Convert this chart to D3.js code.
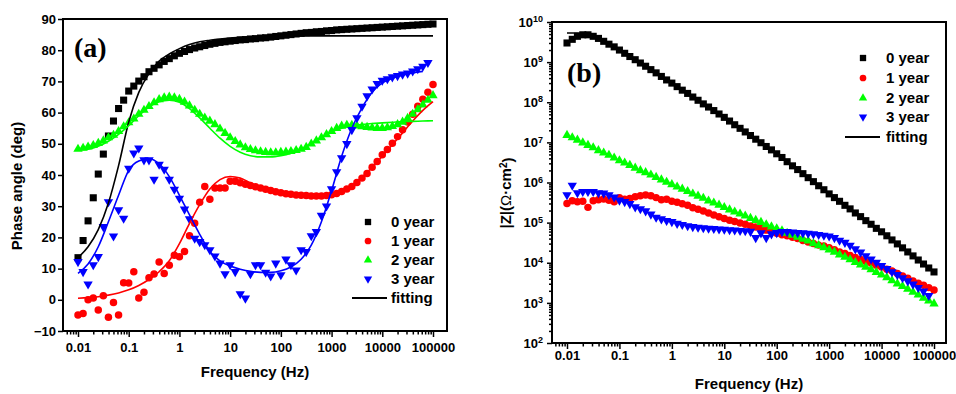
<!DOCTYPE html>
<html><head><meta charset="utf-8">
<script src="https://cdn.jsdelivr.net/npm/d3@7"></script>
<style>
body{margin:0;background:#fff}
svg{display:block}
text{font-family:"Liberation Sans",Arial,sans-serif;font-weight:bold;fill:#000}
</style>
</head><body>
<svg id="c" width="956" height="394"></svg>
<script>
// ---------------- DATA ----------------
const freq = [0.01,0.0126,0.0158,0.02,0.0251,0.0316,0.0398,0.0501,0.0631,0.0794,
  0.1,0.126,0.158,0.2,0.251,0.316,0.398,0.501,0.631,0.794,
  1,1.26,1.58,2,2.51,3.16,3.98,5.01,6.31,7.94,
  10,12.6,15.8,20,25.1,31.6,39.8,50.1,63.1,79.4,
  100,126,158,200,251,316,398,501,631,794,
  1000,1260,1580,2000,2510,3160,3980,5010,6310,7940,
  10000,12600,15800,20000,25100,31600,39800,50100,63100,79400,
  100000];
const fitFreq = [0.01,0.0158,0.0251,0.0398,0.0631,0.1,0.158,0.251,0.398,0.631,1,1.58,2.51,3.98,6.31,10,15.8,25.1,39.8,63.1,100,158,251,398,631,1000,1580,2510,3980,6310,10000,15800,25100,39800,63100,100000];

const seriesNames = ["0 year","1 year","2 year","3 year"];
const fitName = "fitting";

// Phase angle (deg)
const phase0 = [13.5,19,25.3,32.7,40.3,46.7,52.5,57.3,61.3,64,
  66.9,68.5,70.1,71.5,73.1,74.2,75.3,76.4,77.3,78.2,
  79,79.6,80.2,80.7,81.1,81.5,81.9,82.2,82.5,82.7,
  82.9,83.1,83.3,83.4,83.6,83.7,83.9,84,84.2,84.4,
  84.6,84.8,85,85.2,85.4,85.6,85.7,85.9,86,86.2,
  86.3,86.5,86.6,86.7,86.8,86.9,87,87.1,87.2,87.3,
  87.4,87.5,87.6,87.7,87.8,87.9,88,88.1,88.2,88.3,
  88.4];
const phase1 = [-4.9,-4.4,0,0.6,-3.3,1.3,-5.6,-0.9,-4.9,5.5,
  5.4,9,0.6,2.4,7.1,8.3,12.1,8.4,11.1,14.3,
  13.8,15.5,20.5,24.5,31.3,36.3,32.2,35.8,35.8,35.8,
  38,38,37.5,37,36.6,36.2,35.8,35.4,35,34.6,
  34.3,34,33.8,33.6,33.5,33.4,33.3,33.3,33.3,33.4,
  33.7,34.1,34.7,35.5,36.3,37.6,39,40.5,42.5,44.3,
  46.5,48.2,50.2,52.3,54.5,57,59.5,62,64.3,66.5,
  69];
const phase2 = [48.3,48.6,49,49.5,50.2,51,52,52.8,54,55.5,
  56.8,58,59.5,60.8,62,63.2,64.2,64.8,65,64.8,
  64.3,63.4,62.2,60.8,59.5,58.3,57.3,56.2,54.8,53.4,
  52,50.8,49.7,48.8,48.2,47.8,47.5,47.3,47.2,47.2,
  47.3,47.4,47.6,47.9,48.3,48.9,50,51,52,53,
  54,55,55.7,56,56,55.8,55.5,55.3,55.1,55,
  55,55.2,55.6,56.2,57,58.2,59.5,61,62.5,64,
  65.5];
const phase3 = [12.2,9,5,11.2,13.8,23.4,31.4,20.4,28.8,26.1,
  42.1,47,48.6,44.8,44.8,38.6,43.4,41.8,38.6,35.4,
  32.5,29,25.9,19.7,18.6,17.6,16,14,11.7,8.3,
  11.2,9,1.9,0.5,8.3,11.2,11.2,8.8,7.6,11.7,
  8,13,11.2,9.5,16,15.4,20.5,21.8,27,30,
  35.5,41,45.5,50,54.5,58.3,62,65.3,67.5,69.3,
  70.3,70.8,71.4,71.8,72.3,72.6,73.3,74,74.8,76];

const phaseFit0 = [13.5,17,22.5,31,43,57,66.5,72.5,76.5,78.8,80.5,81.8,82.7,83.2,83.6,83.9,84.1,84.3,84.4,84.5,84.55,84.6,84.6,84.6,84.6,84.6,84.6,84.6,84.6,84.6,84.6,84.6,84.6,84.6,84.6,84.6];
const phaseFit1 = [0.5,0.7,1,1.5,2.2,3.2,4.6,6.5,9,12.5,18,24.5,30.5,35.5,38.5,39.5,39,37.5,36,34.8,34,33.4,33,32.8,32.9,33.4,34.5,36.5,39.3,42.5,46,49.7,53.5,57.3,60.7,63.5];
const phaseFit2 = [48,48.3,49.2,50.8,53,55.8,59,61.8,63.5,64,63.3,61.3,58.3,55,51.8,49.2,47.3,46.2,45.8,45.8,46.2,47,48.3,50,52,53.8,55,55.8,56.2,56.5,56.7,56.9,57.1,57.2,57.3,57.4];
const phaseFit3 = [8.5,11.5,17,25,33.5,41.5,44.5,45.2,43.6,39.5,33.5,27.2,21,15.5,12.5,10.8,9.8,9.1,8.8,8.8,9.3,10.5,13,17.5,25,35,46,55,61.5,66.5,69.5,71,72,72.7,73.2,null];

// |Z| (Ohm cm^2)
const modZ0 = [3.0e9,3.7e9,4.4e9,4.8e9,4.8e9,4.4e9,3.9e9,3.3e9,2.8e9,2.4e9,
  2.0e9,1.66e9,1.38e9,1.15e9,9.5e8,7.9e8,6.5e8,5.4e8,4.4e8,3.6e8,
  3.0e8,2.45e8,2.0e8,1.66e8,1.35e8,1.12e8,9.1e7,7.6e7,6.2e7,5.1e7,
  4.2e7,3.4e7,2.75e7,2.24e7,1.82e7,1.48e7,1.2e7,9.8e6,7.9e6,6.5e6,
  5.2e6,4.2e6,3.3e6,2.6e6,2.1e6,1.66e6,1.32e6,1.05e6,8.3e5,6.6e5,
  5.2e5,4.2e5,3.4e5,2.7e5,2.2e5,1.74e5,1.41e5,1.12e5,9.1e4,7.2e4,
  5.9e4,4.7e4,3.7e4,2.95e4,2.35e4,1.86e4,1.48e4,1.17e4,9.3e3,7.4e3,
  5.9e3];
const modZ1 = [3.0e5,3.5e5,3.3e5,3.4e5,2.4e5,3.5e5,3.7e5,3.9e5,3.6e5,3.3e5,
  4.2e5,3.8e5,4.0e5,4.4e5,4.7e5,4.9e5,4.7e5,4.2e5,3.7e5,3.8e5,
  3.4e5,3.2e5,2.95e5,2.7e5,2.35e5,2.15e5,1.95e5,1.74e5,1.55e5,1.41e5,
  1.26e5,1.15e5,1.07e5,9.8e4,9.1e4,8.3e4,7.8e4,7.1e4,6.5e4,5.9e4,
  5.4e4,5.0e4,4.7e4,4.3e4,4.0e4,3.6e4,3.3e4,3.0e4,2.75e4,2.6e4,
  2.35e4,2.1e4,1.86e4,1.7e4,1.51e4,1.35e4,1.2e4,1.07e4,9.8e3,8.7e3,
  7.8e3,6.9e3,6.2e3,5.4e3,4.7e3,4.1e3,3.5e3,3.1e3,2.75e3,2.4e3,
  2.1e3];
const modZ2 = [1.51e7,1.32e7,1.15e7,9.8e6,8.5e6,7.4e6,6.3e6,5.5e6,4.8e6,4.1e6,
  3.5e6,3.1e6,2.7e6,2.3e6,2.0e6,1.78e6,1.55e6,1.35e6,1.17e6,1.02e6,
  8.9e5,7.8e5,6.9e5,6.0e5,5.2e5,4.6e5,4.1e5,3.5e5,3.1e5,2.75e5,
  2.4e5,2.1e5,1.86e5,1.66e5,1.48e5,1.29e5,1.15e5,1.02e5,8.9e4,7.9e4,
  7.1e4,6.3e4,5.5e4,4.9e4,4.4e4,3.9e4,3.5e4,3.0e4,2.7e4,2.4e4,
  2.1e4,1.86e4,1.58e4,1.38e4,1.2e4,1.02e4,8.9e3,7.8e3,6.8e3,5.8e3,
  5.0e3,4.3e3,3.6e3,3.0e3,2.6e3,2.2e3,1.86e3,1.58e3,1.32e3,1.12e3,
  9.5e2];
const modZ3 = [4.9e5,8.5e5,5.5e5,5.9e5,5.9e5,5.9e5,5.5e5,5.4e5,4.9e5,4.3e5,
  3.6e5,3.3e5,2.95e5,2.45e5,2.2e5,1.95e5,1.62e5,1.35e5,1.23e5,1.12e5,
  1.05e5,9.5e4,8.9e4,8.3e4,7.9e4,7.6e4,7.4e4,7.2e4,7.1e4,6.9e4,
  6.8e4,6.6e4,6.5e4,6.3e4,6.2e4,6.0e4,4.2e4,5.5e4,4.2e4,5.2e4,
  5.6e4,5.9e4,5.9e4,5.8e4,5.6e4,5.5e4,5.4e4,5.2e4,5.0e4,4.8e4,
  4.6e4,4.2e4,3.6e4,3.2e4,2.7e4,2.2e4,1.82e4,1.48e4,1.23e4,1.02e4,
  8.5e3,7.1e3,5.9e3,5.0e3,4.2e3,3.5e3,2.9e3,2.4e3,1.95e3,1.51e3];
const modZFit0 = [5.3e9,5.3e9,5.0e9,4.0e9,2.9e9,2.05e9,1.4e9,9.5e8,6.5e8,4.4e8,3.0e8,2.0e8,1.35e8,9.1e7,6.2e7,4.2e7,2.75e7,1.82e7,1.2e7,7.9e6,5.2e6,3.3e6,2.1e6,1.32e6,8.3e5,5.2e5,3.4e5,2.2e5,1.41e5,9.1e4,5.9e4,3.7e4,2.35e4,1.48e4,9.3e3,5.9e3];

// ticks
const xTickValues = [0.01,0.1,1,10,100,1000,10000,100000];
const xTickLabels = ["0.01","0.1","1","10","100","1000","10000","100000"];
const phaseTicks = [-10,0,10,20,30,40,50,60,70,80,90];
const modZTicks = [1e2,1e3,1e4,1e5,1e6,1e7,1e8,1e9,1e10];

// ---------------- DRAW ----------------
const svg = d3.select("#c");
svg.append("rect").attr("width",956).attr("height",394).attr("fill","#fff");

const colors = ["#000000","#ff0000","#00ff00","#0000ff"];
const symbols = [
  {type:d3.symbolSquare, size:50, rot:0},
  {type:d3.symbolCircle, size:44, rot:0},
  {type:d3.symbolTriangle, size:38, rot:0},
  {type:d3.symbolTriangle, size:38, rot:180}
];

function panel(o){
  const g = svg.append("g");
  const x = d3.scaleLog().domain([0.01,100000]).range(o.xr);
  const y = o.y;
  const lo = x.invert(o.L), hi = x.invert(o.R);
  const minors = [];
  for (let e=-3;e<=5;e++) for (let m=2;m<=9;m++){ const v=m*Math.pow(10,e); if(v>lo*1.0001 && v<hi) minors.push(v); }

  // x axis
  const gx1 = g.append("g").attr("transform",`translate(0,${o.B})`)
    .call(d3.axisBottom(x).tickValues(minors).tickSize(3.5).tickFormat(""));
  const gx2 = g.append("g").attr("transform",`translate(0,${o.B})`)
    .call(d3.axisBottom(x).tickValues(xTickValues).tickSize(6).tickFormat((d,i)=>xTickLabels[i]));
  [gx1,gx2].forEach(a=>{a.select(".domain").remove(); a.selectAll("line").attr("stroke","#000").attr("stroke-width",1.5);});
  gx2.selectAll("text").attr("y",o.xLabelDy).attr("dy",0).style("font-size","13px").style("font-family","Liberation Sans, Arial, sans-serif").style("font-weight","bold").attr("fill","#000");

  // y axis
  if (o.logY){
    const yMinors=[];
    for (let e=2;e<=9;e++) for (let m=2;m<=9;m++) yMinors.push(m*Math.pow(10,e));
    const gy1 = g.append("g").attr("transform",`translate(${o.L},0)`)
      .call(d3.axisLeft(y).tickValues(yMinors).tickSize(3).tickFormat(""));
    const gy2 = g.append("g").attr("transform",`translate(${o.L},0)`)
      .call(d3.axisLeft(y).tickValues(modZTicks).tickSize(5).tickPadding(4).tickFormat(""));
    [gy1,gy2].forEach(a=>{a.select(".domain").remove(); a.selectAll("line").attr("stroke","#000").attr("stroke-width",1.5);});
    gy2.selectAll("text").each(function(d){
      const t=d3.select(this).text(null).style("font-size","13px").style("font-family","Liberation Sans, Arial, sans-serif").style("font-weight","bold").attr("fill","#000");
      t.append("tspan").text("10");
      t.append("tspan").attr("dy","-0.5em").style("font-size","9px").text(Math.round(Math.log10(d)));
    });
  } else {
    const gy = g.append("g").attr("transform",`translate(${o.L},0)`)
      .call(d3.axisLeft(y).tickValues(phaseTicks).tickSize(5).tickPadding(2));
    gy.select(".domain").remove();
    gy.selectAll("line").attr("stroke","#000").attr("stroke-width",1.5);
    gy.selectAll("text").style("font-size","13px").style("font-family","Liberation Sans, Arial, sans-serif").style("font-weight","bold").attr("fill","#000");
  }

  // markers
  o.series.forEach((vals,si)=>{
    const sym = d3.symbol().type(symbols[si].type).size(symbols[si].size);
    g.append("g").selectAll("path").data(vals.map((v,i)=>({f:freq[i],v})))
      .join("path")
      .attr("d",sym)
      .attr("transform",d=>`translate(${x(d.f)},${y(d.v)}) rotate(${symbols[si].rot})`)
      .attr("fill",colors[si]);
  });
  // fits
  o.fits.forEach((vals,si)=>{
    if(!vals) return;
    const line = d3.line().defined(d=>d.v!=null).x(d=>x(d.f)).y(d=>y(d.v)).curve(d3.curveMonotoneX);
    g.append("path").datum(vals.map((v,i)=>({f:fitFreq[i],v})))
      .attr("d",line).attr("fill","none").attr("stroke",colors[si]).attr("stroke-width",1.6);
  });

  // frame
  g.append("rect").attr("x",o.L).attr("y",o.T).attr("width",o.R-o.L).attr("height",o.B-o.T)
    .attr("fill","none").attr("stroke","#000").attr("stroke-width",2);

  // legend
  o.legendRows.forEach((ry,i)=>{
    if(i<4){
      const sym = d3.symbol().type(symbols[i].type).size(symbols[i].size*0.8);
      g.append("path").attr("d",sym).attr("transform",`translate(${o.legSymX},${ry}) rotate(${symbols[i].rot})`).attr("fill",colors[i]);
    } else {
      g.append("line").attr("x1",o.legLine[0]).attr("x2",o.legLine[1]).attr("y1",ry).attr("y2",ry).attr("stroke","#000").attr("stroke-width",2);
    }
    g.append("text").attr("x",o.legTextX).attr("y",ry+5).style("font-size","15px").text(i<4?seriesNames[i]:fitName);
  });

  // panel letter
  g.append("text").attr("x",o.letter[0]).attr("y",o.letter[1]).style("font-family","Liberation Serif, Times New Roman, serif")
    .style("font-size","28px").style("font-weight","bold").text(o.letterText);

  // x title
  g.append("text").attr("x",o.xTitle[0]).attr("y",o.xTitle[1]).attr("text-anchor","middle").style("font-size","15px").text("Frequency (Hz)");
  return g;
}

const gA = panel({
  L:63,R:447,T:19,B:331, xr:[78,433],
  y: d3.scaleLinear().domain([-10,90]).range([331,19]),
  logY:false, xLabelDy:21,
  series:[phase0,phase1,phase2,phase3],
  fits:[phaseFit0,phaseFit1,phaseFit2,phaseFit3],
  legendRows:[222,241,260,279,298], legSymX:368, legTextX:391, legLine:[352,387],
  letter:[74,57], letterText:"(a)", xTitle:[255,377]
});
gA.append("text").attr("transform","translate(22,186) rotate(-90)").attr("text-anchor","middle").style("font-size","15px").text("Phase angle (deg)");

const gB = panel({
  L:552,R:946,T:22,B:343, xr:[567,934],
  y: d3.scaleLog().domain([1e2,1e10]).range([343,22]),
  logY:true, xLabelDy:17,
  series:[modZ0,modZ1,modZ2,modZ3],
  fits:[modZFit0,null,null,null],
  legendRows:[58,78,98,117,137], legSymX:863, legTextX:886, legLine:[845,880],
  letter:[567,82], letterText:"(b)", xTitle:[749,389]
});
const yt = gB.append("text").attr("transform","translate(511,193) rotate(-90)").attr("text-anchor","middle").style("font-size","15px");
yt.append("tspan").text("|Z|(");
yt.append("tspan").style("font-weight","normal").text("Ω");
yt.append("tspan").text("·cm");
yt.append("tspan").attr("dy","-0.45em").style("font-size","10px").text("2");
yt.append("tspan").attr("dy","0.45em").text(")");
</script>
</body></html>
